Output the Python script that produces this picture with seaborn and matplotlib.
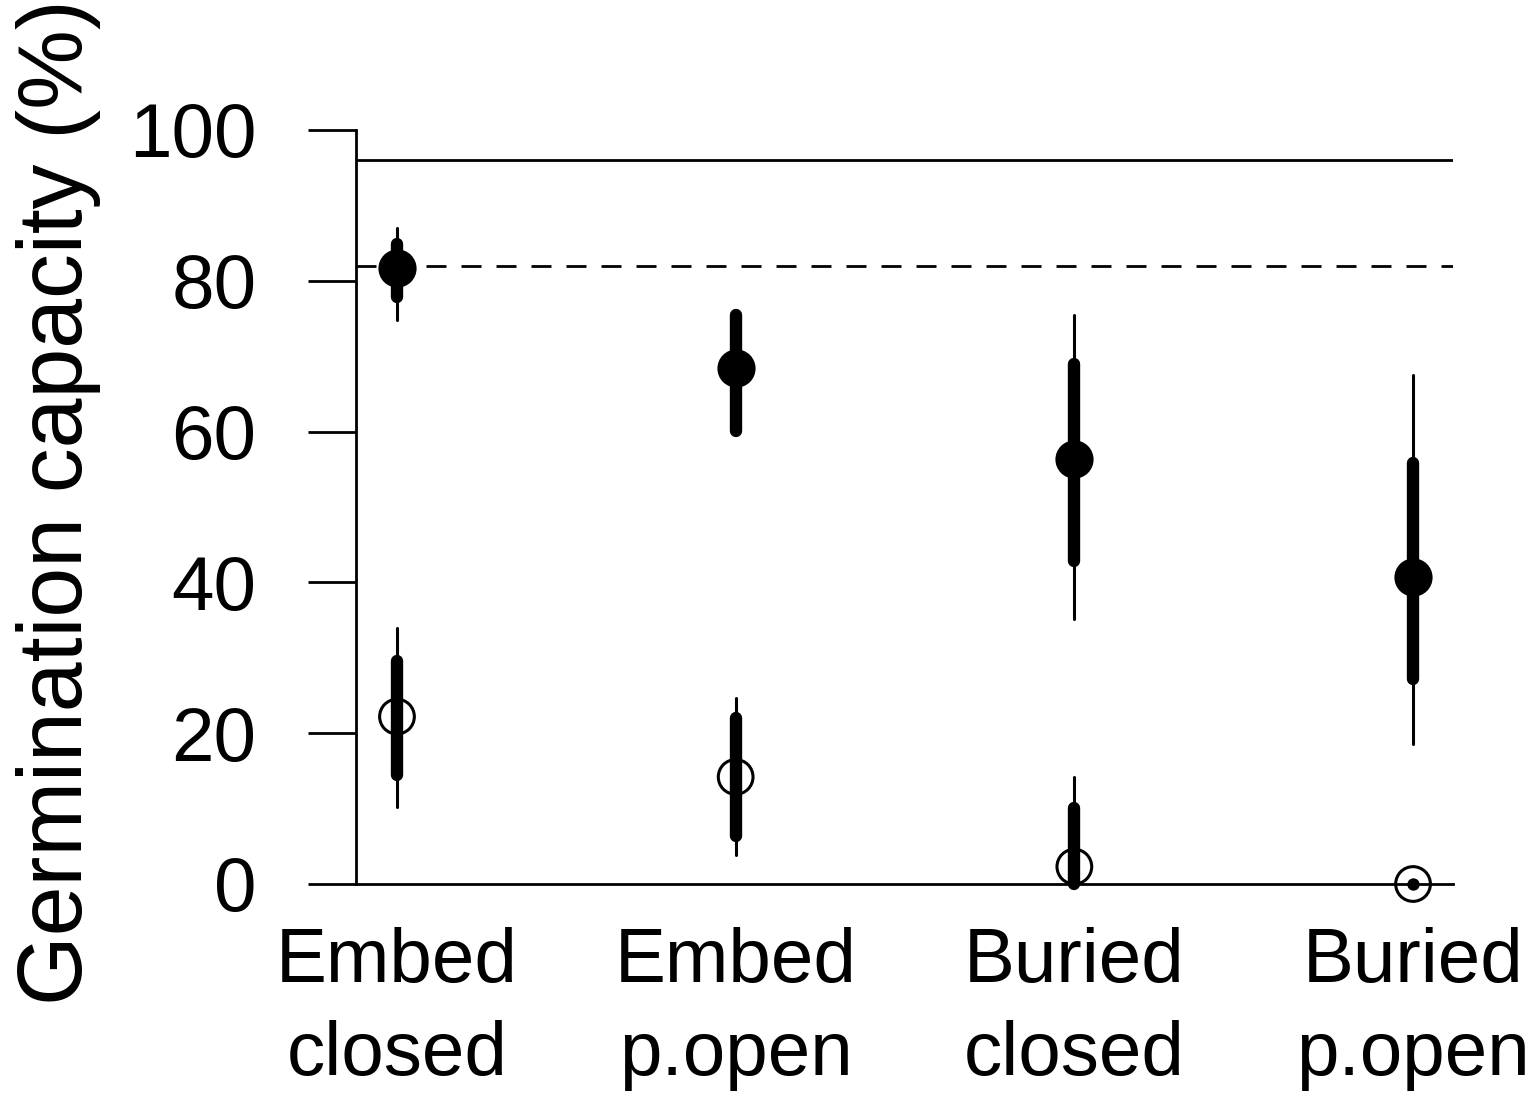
import matplotlib
matplotlib.use("Agg")
import matplotlib.pyplot as plt
import seaborn as sns
import numpy as np
import pandas as pd

# ---- data ----
categories = ["Embed\nclosed", "Embed\np.open", "Buried\nclosed", "Buried\np.open"]

closed_mean = [81.7, 68.4, 56.4, 40.7]
closed_inner_lo = [77.8, 60.1, 42.9, 27.2]
closed_inner_hi = [84.9, 75.5, 68.9, 55.9]
closed_outer_lo = [74.8, 60.1, 35.2, 18.6]
closed_outer_hi = [87.0, 75.5, 75.4, 67.5]

open_mean = [22.2, 14.2, 2.3, 0.0]
open_inner_lo = [14.4, 6.4, 0.0, 0.0]
open_inner_hi = [29.6, 22.0, 10.1, 0.0]
open_outer_lo = [10.2, 3.9, 0.0, 0.0]
open_outer_hi = [34.0, 24.7, 14.2, 0.0]

ref_solid = 96.0
ref_dashed = 82.0
yticks = [0, 20, 40, 60, 80, 100]

# ---- build table ----
x = np.arange(len(categories))
df = pd.concat([
    pd.DataFrame({"x": x, "mean": closed_mean, "ilo": closed_inner_lo, "ihi": closed_inner_hi,
                  "olo": closed_outer_lo, "ohi": closed_outer_hi, "kind": "closed"}),
    pd.DataFrame({"x": x, "mean": open_mean, "ilo": open_inner_lo, "ihi": open_inner_hi,
                  "olo": open_outer_lo, "ohi": open_outer_hi, "kind": "open"}),
], ignore_index=True)

sns.set_theme(style="ticks")
plt.rcParams["font.family"] = ["Liberation Sans", "DejaVu Sans"]
plt.rcParams["text.color"] = "black"
plt.rcParams["xtick.color"] = "black"
plt.rcParams["ytick.color"] = "black"
plt.rcParams["axes.edgecolor"] = "black"

W, H = 1536, 1102
fig = plt.figure(figsize=(W / 100, H / 100), dpi=100)
ax = fig.add_axes([356 / W, 1 - 884 / H, (1453 - 356) / W, 754 / H])

LW = 2.0
# reference lines
ax.axhline(ref_solid, color="black", lw=LW, zorder=1)
ax.axhline(ref_dashed, color="black", lw=LW, linestyle=(0, (7.2, 5.4)), zorder=1)

# interval bars
for _, r in df.iterrows():
    ax.plot([r["x"], r["x"]], [r["olo"], r["ohi"]], color="black", lw=2.2,
            solid_capstyle="round", zorder=2, clip_on=False)
    ax.plot([r["x"], r["x"]], [r["ilo"], r["ihi"]], color="black", lw=8.9,
            solid_capstyle="round", zorder=3, clip_on=False)

# dot for zero-width intervals
zero = df[(df["ihi"] - df["ilo"]) == 0]
sns.scatterplot(data=zero, x="x", y="mean", ax=ax, color="black", s=8.9 ** 2,
                linewidth=0, zorder=4, clip_on=False, legend=False)

closed = df[df["kind"] == "closed"]
opn = df[df["kind"] == "open"]
sns.scatterplot(data=closed, x="x", y="mean", ax=ax, color="black", s=27.5 ** 2,
                linewidth=0, zorder=5, clip_on=False, legend=False)
sns.scatterplot(data=opn, x="x", y="mean", ax=ax, facecolor="none", edgecolor="black",
                s=25 ** 2, linewidth=2.2, zorder=5, clip_on=False, legend=False)

ax.set_xlim(-0.121, 3.118)
ax.set_ylim(0, 100)
ax.set_yticks(yticks)
ax.set_yticklabels([str(v) for v in yticks], fontsize=55, color="black")
ax.set_xticks(x)
ax.set_xticklabels(categories, fontsize=55, linespacing=1.40, color="black")
ax.tick_params(axis="y", length=34.6, width=LW, pad=37, color="black")
ax.tick_params(axis="x", length=0, pad=31)
ax.set_xlabel("")
ax.set_ylabel("")
for s in ["top", "right"]:
    ax.spines[s].set_visible(False)
for s in ["left", "bottom"]:
    ax.spines[s].set_linewidth(LW)
    ax.spines[s].set_color("black")
ax.set_facecolor("white")

fig.text(0.038, 1 - 502 / H, "Germination capacity (%)", rotation=90,
         ha="center", va="center", fontsize=64.5, color="black")

fig.savefig("out.png", dpi=100, facecolor="white")
